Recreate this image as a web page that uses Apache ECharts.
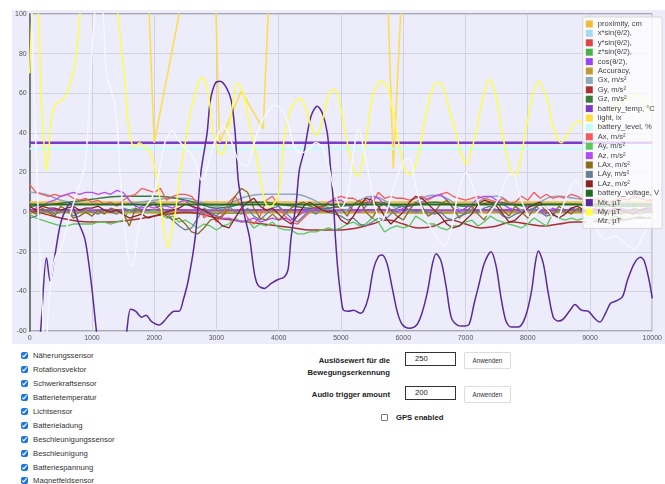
<!DOCTYPE html>
<html>
<head>
<meta charset="utf-8">
<script src="https://cdn.jsdelivr.net/npm/echarts@6/dist/echarts.min.js"></script>
<style>
  body { margin: 0; width: 665px; height: 484px; position: relative; background: #fff; overflow: hidden;
         font-family: "Liberation Sans", Arial, sans-serif; color: #333; }
  #chart { position: absolute; left: 12px; top: 10px; width: 653px; height: 334px; background: #ececfa; }
  .sensors { position: absolute; left: 20px; top: 349px; }
  .sensors label { display: flex; align-items: center; height: 13.9px; font-size: 7.7px; color: #333; }
  .sensors input { width: 7px; height: 7px; margin: 0 5px 0 1px; accent-color: #1a73e8; }
  .lbl { position: absolute; font-size: 7.7px; font-weight: bold; color: #222; text-align: right; line-height: 12px; }
  .num { position: absolute; left: 405px; width: 51px; height: 14px; box-sizing: border-box; border: 1px solid #333;
         border-left-width: 1.5px; border-top-width: 1.5px; font-size: 7.7px; padding-left: 9px; line-height: 11px; color: #222; }
  .btn { position: absolute; left: 464px; width: 47px; height: 17px; box-sizing: border-box; border: 1px solid #ddd;
         background: #fff; font-size: 6.3px; color: #333; text-align: center; line-height: 15px; border-radius: 1px; }
  .gps { position: absolute; left: 381px; top: 413px; display: flex; align-items: center; font-size: 7.7px; font-weight: bold; color: #222; }
  .gps span.box { width: 7px; height: 7px; border: 1px solid #777; border-radius: 1px; box-sizing: border-box; margin-right: 8px; background: #fff; }
</style>
</head>
<body>
<div id="chart"></div>

<div class="sensors">
  <label><input type="checkbox" checked>Näherungssensor</label>
  <label><input type="checkbox" checked>Rotationsvektor</label>
  <label><input type="checkbox" checked>Schwerkraftsensor</label>
  <label><input type="checkbox" checked>Batterietemperatur</label>
  <label><input type="checkbox" checked>Lichtsensor</label>
  <label><input type="checkbox" checked>Batterieladung</label>
  <label><input type="checkbox" checked>Beschleunigungssensor</label>
  <label><input type="checkbox" checked>Beschleunigung</label>
  <label><input type="checkbox" checked>Batteriespannung</label>
  <label><input type="checkbox" checked>Magnetfeldsensor</label>
</div>

<div class="lbl" style="left:290px; top:355px; width:100px;">Auslösewert für die<br>Bewegungserkennung</div>
<div class="num" style="top:352px;">250</div>
<div class="btn" style="top:352px;">Anwenden</div>

<div class="lbl" style="left:290px; top:389px; width:100px;">Audio trigger amount</div>
<div class="num" style="top:386px;">200</div>
<div class="btn" style="top:386px;">Anwenden</div>

<div class="gps"><span class="box"></span>GPS enabled</div>

<script>
// sample positions
const xs100 = [0,100,200,300,400,500,600,700,800,900,1000,1100,1200,1300,1400,1500,1600,1700,1800,1900,
  2000,2100,2200,2300,2400,2500,2600,2700,2800,2900,3000,3100,3200,3300,3400,3500,3600,3700,3800,3900,
  4000,4100,4200,4300,4400,4500,4600,4700,4800,4900,5000,5100,5200,5300,5400,5500,5600,5700,5800,5900,
  6000,6100,6200,6300,6400,6500,6600,6700,6800,6900,7000,7100,7200,7300,7400,7500,7600,7700,7800,7900,
  8000,8100,8200,8300,8400,8500,8600,8700,8800,8900,9000,9100,9200,9300,9400,9500,9600,9700,9800,9900,10000];
const xs250 = [0,250,500,750,1000,1250,1500,1750,2000,2250,2500,2750,3000,3250,3500,3750,4000,4250,4500,4750,
  5000,5250,5500,5750,6000,6250,6500,6750,7000,7250,7500,7750,8000,8250,8500,8750,9000,9250,9500,9750,10000];
const xs500 = [0,500,1000,1500,2000,2500,3000,3500,4000,4500,5000,5500,6000,6500,7000,7500,8000,8500,9000,9500,10000];
const xsEnds = [0, 10000];

// constant readings
const proximity = [5, 5];
const accuracy = [0, 0];
const batteryTemp = [35, 35];
const batteryLevel = [32, 32];
const batteryVoltage = [3.9, 3.9];

// rotation vector
const xSin = [0.2,0.1,-0.1,0.3,0.2,0,-0.2,0.1,0.3,0.2,0.1,-0.1,0.2,0.3,0.1,0,0.2,0.1,-0.1,0.2,0.1];
const ySin = [-0.1,0,0.2,0.1,-0.2,-0.3,0,0.2,0.1,-0.1,0,0.1,-0.2,0,0.2,0.1,-0.1,0,0.1,0,-0.1];
const zSin = [0.3,0.4,0.5,0.2,-0.1,-0.4,-0.6,-0.3,0.1,0.4,0.5,0.3,-0.2,-0.5,-0.3,0.2,0.5,0.3,-0.1,-0.3,0];
const cosHalf = [0.9,0.9,0.85,0.95,0.95,0.9,0.8,0.9,0.95,0.9,0.85,0.95,0.95,0.85,0.9,0.95,0.85,0.9,0.95,0.95,0.95];

// gravity
const gx = [10,9,6,4.5,4,4,4,5,6,7,7,5,3,5,8,9,9,9,7,3,0,5,8,5,0,6,8.5,6,0,6,8,4,0,6,8,7,6,5,5,4,4];
const gy = [1,-1,-3,-4.5,-5,-5,-4.5,-3.5,-2,-1,0,-1,-3,-4,-5,-6,-7,-8,-9,-9,-9,-8,-6,-4,-6,-8,-7,-4,-6,-8,-7,-5,-6,-7,-6,-5,-5,-4,-4,-3,-3];
const gz = [3,3.5,4.5,5.5,6.5,7.5,8,8,8,7.5,6,4,2,3,5,5,4,3,2,2,3,4,5,4,3,4,5,4,3,4,5,4,3,4,4,4,3,3,3,3,3];

// acceleration
const ax = [14,10,9,8,9,8,9,7,6,7, 5,6,4,5,3,6,8,9,12,11, 10,12,6,8,9,9,8,4,-3,0, -5,-1,5,8,3,-3,-6,-2,6,8,
  3,-2,-5,-6,-3,0,3,2,5,7, 8,7,7,5,6,4,10,7,8,7, 7,6,7,8,6,8,9,10,8,7, 6,7,8,7,6,5,7,4,5,8,
  6,10,7,9,7,8,7,9,8,6, 7,6,7,5,6,7,6,8,7,6, 6];
const ay = [-1,-3,-4,-5,-6,-7,-7,-6,-6,-6, -6,-5,-5,-6,-5,-4,1,2,0,0, 1,-1,-3,-2,-5,-4,-6,-8,-6,-7,
  -9,-7,-6,-3,-5,-4,-8,-6,-7,-5, -8,-9,-9,-11,-11,-10,-10,-9,-8,-9, -8,-6,-5,-7,-6,-3,-5,-10,-8,-7,
  -8,-7,-2,-4,-6,-6,-8,-9,-7,-7, -5,-4,-7,-5,-2,-4,-5,-6,-7,-8, -6,-3,-5,-7,-1,-3,-4,-3,-4,-3,
  -3,-4,-3,-4,-2,-3,-4,-3,-2,-3, -2];
const az = [0,2,3,5,6,8,9,10,9,10, 10,9,10,9,11,10,6,3,2,3, 2,3,3,2,5,6,3,1,0,-1, -2,-3,-3,-4,-5,-4,-3,-5,-4,-3,
  -4,-3,-4,-2,0,1,2,3,5,6, 6,4,1,0,3,8,7,4,1,0, 2,3,4,5,7,8,9,6,2,0, 2,4,7,8,8,6,4,2,1,0,
  3,4,1,-1,2,1,0,2,1,0, 1,2,1,0,1,2,1,0,1,2, 1];

// linear acceleration
const lax = [1,-1,2,0,-2,3,1,-3,-2,0, -2,1,-1,2,1,0,-7,2,0,3, 4,1,-2,-4,-3,-6,-10,-11,-8,-4,
  -3,-2,2,8,12,10,2,-3,-4,-1, -4,-1,2,4,5,3,2,3,4,3, 2,-2,4,6,0,-3,2,5,1,-2, -4,1,5,3,-2,0,4,6,2,-3,
  0,3,-1,-4,2,5,1,-2,3,0, -3,2,4,0,-2,3,1,-1,2,0, 1,-1,2,0,1,-1,0,2,1,0, 1];
const lay = [-3,-2,0,1,-1,0,1,-2,0,1, 0,-1,1,0,-1,2,1,0,3,4, 5,3,0,-4,-7,-9,-8,-3,2,0,
  -2,1,3,0,-1,2,-2,-4,-1,2, 3,0,-3,-5,-2,1,-1,2,0,-1, -2,-4,-3,-6,-7,-5,-3,-4,-1,2,
  3,1,0,1,0,-1,0,-3,-4,-2, -1,1,0,2,3,1,-2,-3,-1,0, 1,2,0,-2,-1,1,0,2,1,0, -1,0,1,0,-1,0,1,0,-1,0, 0];
const laz = [3,1,3,2,2,1,2,3,1,2, 2,3,1,0,1,-1,-3,-2,-1,-3, -2,-1,0,1,2,4,3,2,1,-1,
  -4,-7,-8,-3,2,5,7,3,1,2, -1,-4,-6,-2,3,5,3,1,0,1, -4,-6,-2,3,7,6,3,-2,-6,-3,
  0,5,8,7,4,1,-2,-6,-8,-7, -4,-1,4,6,5,3,-1,-5,-4,-1, 2,4,5,2,-1,-3,-1,2,3,1, 0,1,-1,0,2,1,0,-1,1,2, 2];

// light sensor, [t, lx]
const lightPts = [[0,180],[600,160],[1200,200],[1850,157],[2000,35],[2340,90],[2700,150],[2940,160],[3050,35],
  [3400,61],[3750,42],[3900,150],[4600,200],[5300,180],[5700,160],[5840,22],[6050,160],[7000,200],[8000,190],
  [9000,210],[10000,200]];

// magnetic field, [t, µT]
const mxPts = [[0,-95],[100,-80],[175,-60],[270,-23],[330,-35],[410,-21],[480,-8],[540,-1.5],[650,4.5],[780,-5],
  [890,-14],[990,-36],[1065,-58],[1150,-80],[1300,-95],[1450,-85],[1560,-60],[1620,-49],[1700,-50],[1800,-53],
  [1870,-52],[1950,-55],[2080,-57],[2160,-55],[2240,-52],[2320,-50],[2400,-50],[2470,-44],[2550,-34],[2660,-12.5],
  [2750,20],[2850,40],[2900,56],[2980,65],[3060,66],[3165,62.5],[3240,56],[3300,40],[3350,16],[3430,1],
  [3530,-12.5],[3610,-31],[3670,-37],[3770,-38.5],[3880,-36],[3990,-34],[4090,-32.7],[4150,-29],[4200,-12.5],
  [4280,4.5],[4330,21],[4410,31],[4515,48],[4620,53.5],[4700,50],[4780,40],[4830,23],[4880,4.5],[4910,-12.5],
  [4950,-29],[5000,-43],[5040,-49.5],[5120,-50],[5200,-49.5],[5310,-51],[5360,-50],[5440,-43],[5520,-29],
  [5600,-22.5],[5660,-21.7],[5740,-26],[5820,-37.7],[5910,-51],[5990,-57],[6100,-58.6],[6215,-57],[6300,-51],
  [6390,-40],[6470,-26],[6530,-21],[6610,-25],[6690,-37.7],[6770,-53],[6870,-57],[6980,-57.5],[7060,-56.5],
  [7140,-46],[7220,-36],[7300,-26],[7410,-20],[7490,-27],[7570,-43],[7650,-55],[7730,-58],[7850,-58],[7960,-53],
  [8060,-40],[8120,-26],[8170,-19.6],[8250,-26],[8330,-41],[8410,-53],[8490,-55],[8570,-54],[8680,-49.5],
  [8760,-46.6],[8860,-49.5],[8970,-50],[9080,-53.8],[9160,-55.5],[9250,-51],[9330,-46],[9410,-45],[9520,-42.8],
  [9600,-34.5],[9710,-26],[9810,-22.8],[9870,-24.5],[9950,-34.5],[10000,-43.5]];
const myPts = [[0,70],[40,100],[90,112],[140,100],[190,55],[240,30],[275,21],[300,28],[340,45],[380,52],[430,55],
  [540,57],[600,60],[650,65],[730,75],[810,100],[900,125],[1100,140],[1300,125],[1415,100],[1480,80],[1520,70],
  [1560,52],[1600,40],[1650,34],[1700,33],[1760,35],[1810,34],[1880,32],[1945,30],[2025,20],[2100,5],[2160,-10],
  [2220,-18],[2280,-10],[2340,0],[2420,20],[2500,35],[2580,50],[2660,60],[2720,66],[2770,68],[2830,65],[2890,55],
  [2950,40],[3020,32],[3080,29],[3130,31],[3200,42],[3240,50],[3300,62],[3350,65],[3430,60],[3500,50],[3560,40],
  [3610,33],[3690,20],[3770,6],[3830,3],[3880,3],[3940,5],[3990,8],[4040,20],[4090,38],[4170,50],[4250,55],
  [4310,57],[4360,57],[4410,54],[4460,50],[4510,44],[4560,40],[4620,39],[4680,44],[4730,50],[4780,57],[4830,61],
  [4880,62],[4940,60],[5000,52],[5070,40],[5150,28],[5220,20],[5280,18],[5340,25],[5420,40],[5470,52],[5520,60],
  [5600,65],[5660,66],[5720,64],[5760,62],[5830,52],[5900,40],[5970,28],[6030,21],[6100,19],[6180,22],[6265,32],
  [6320,42],[6370,50],[6450,60],[6530,65],[6600,65],[6660,61],[6750,50],[6850,40],[6920,30],[6980,26],[7020,24],
  [7100,32],[7170,40],[7240,52],[7300,60],[7380,67],[7430,65],[7480,60],[7540,50],[7590,40],[7670,28],[7745,20],
  [7800,18],[7880,26],[7960,40],[8030,52],[8090,60],[8170,66],[8250,62],[8330,55],[8390,45],[8440,40],[8500,36],
  [8540,35],[8600,37],[8650,40],[8760,45],[8840,46],[8920,42],[9000,42],[9100,42],[9200,44],[9300,48],[9400,52],
  [9500,55],[9600,57],[9700,59],[9800,58],[9900,54],[10000,50]];
const mzPts = [[0,160],[30,100],[110,25],[160,-20],[220,-60],[250,-75],[290,-55],[330,-38],[380,-27],[420,-22],
  [480,-20],[560,-12],[650,-1],[760,10],[860,20],[910,30],[980,70],[1045,100],[1110,112],[1180,100],[1230,70],
  [1290,63],[1365,55],[1415,40],[1450,20],[1500,0],[1575,-21],[1625,-27],[1680,-24],[1730,-12],[1780,-4],[1850,2],
  [1920,5],[2000,10],[2080,20],[2180,36],[2290,41],[2370,37],[2480,33],[2580,30],[2680,24],[2760,16],[2815,18],
  [2900,28],[2980,36],[3110,43],[3190,40],[3300,30],[3375,25],[3480,23],[3590,33],[3690,43],[3830,51],[3930,54],
  [4040,52],[4150,45],[4250,33],[4360,30],[4460,31],[4595,35],[4700,33],[4800,23],[4900,10],[5000,2],[5100,8],
  [5200,30],[5280,42],[5390,28],[5470,15],[5550,2],[5650,-5],[5750,2],[5840,12],[5950,22],[6050,27],[6120,26],
  [6215,11],[6375,-4],[6530,-12],[6660,-17],[6770,-9],[6870,8],[6950,17],[7010,20],[7100,15],[7200,5],[7300,-2],
  [7400,0],[7500,5],[7600,12],[7700,19],[7775,19],[7850,10],[7950,2],[8050,-3],[8150,0],[8250,3],[8350,0],
  [8450,-5],[8550,2],[8650,10],[8760,16],[8850,12],[8950,2],[9100,-8],[9250,-14],[9400,-12],[9550,-15],[9710,-19],
  [9850,-12],[9950,-5],[10000,-2]];

const xTicks = [0, 1000, 2000, 3000, 4000, 5000, 6000, 7000, 8000, 9000, 10000];
const yTicks = [-60, -40, -20, 0, 20, 40, 60, 80, 100];

const zip = (xs, ys) => xs.map((x, i) => [x, ys[i]]);

// name, points, colour, width, smoothing
const lines = [
  ['proximity, cm', zip(xsEnds, proximity), '#f0bc3c', 2, 0],
  ['x*sin(θ/2),', zip(xs500, xSin), '#a6d8f5', 1.5, 0.3],
  ['y*sin(θ/2),', zip(xs500, ySin), '#d94848', 1.5, 0.3],
  ['z*sin(θ/2),', zip(xs500, zSin), '#4caf50', 1.5, 0.3],
  ['cos(θ/2),', zip(xs500, cosHalf), '#9b45f0', 2.5, 0.3],
  ['Accuracy,', zip(xsEnds, accuracy), '#bf9b30', 2.5, 0],
  ['Gx, m/s²', zip(xs250, gx), '#8fa8bf', 1.5, 0.5],
  ['Gy, m/s²', zip(xs250, gy), '#a83232', 1.5, 0.5],
  ['Gz, m/s²', zip(xs250, gz), '#3a7a3a', 1.5, 0.5],
  ['battery_temp, °C', zip(xsEnds, batteryTemp), '#7a3cc8', 2.5, 0],
  ['light, lx', lightPts, '#ffdd44', 1.5, 0],
  ['battery_level, %', zip(xsEnds, batteryLevel), '#c4fbfb', 1.8, 0],
  ['Ax, m/s²', zip(xs100, ax), '#f55a5a', 1.3, 0],
  ['Ay, m/s²', zip(xs100, ay), '#5cc85c', 1.3, 0],
  ['Az, m/s²', zip(xs100, az), '#b24cf5', 1.3, 0],
  ['LAx, m/s²', zip(xs100, lax), '#8b6d1c', 1.3, 0],
  ['LAy, m/s²', zip(xs100, lay), '#677f96', 1.3, 0],
  ['LAz, m/s²', zip(xs100, laz), '#8a2424', 1.3, 0],
  ['battery_voltage, V', zip(xsEnds, batteryVoltage), '#236b23', 2, 0],
  ['Mx, µT', mxPts, '#5a2a9c', 1.5, 0.3],
  ['My, µT', myPts, '#ffff45', 1.5, 0.3],
  ['Mz, µT', mzPts, '#f7f7ff', 1.5, 0.3]
];

const chart = echarts.init(document.getElementById('chart'));

chart.setOption({
  animation: false,
  textStyle: { fontFamily: 'Liberation Sans, Arial, sans-serif' },
  grid: {
    left: 14, right: 10, top: 4, bottom: 13,
    show: true, borderColor: '#666', borderWidth: 1, backgroundColor: '#ececfa'
  },
  legend: {
    orient: 'vertical',
    right: 3,
    top: 7,
    padding: [3, 3, 3, 3],
    itemWidth: 7,
    itemHeight: 7,
    itemGap: 1.4,
    icon: 'rect',
    backgroundColor: 'rgba(255,255,255,0.78)',
    borderColor: '#d8d8d8',
    borderWidth: 1,
    textStyle: { fontSize: 7.6, color: '#444' },
    data: lines.map(l => l[0])
  },
  xAxis: {
    type: 'value',
    min: xTicks[0],
    max: xTicks[xTicks.length - 1],
    interval: 1000,
    axisLine: { show: true, lineStyle: { color: '#777', width: 2 } },
    axisTick: { show: false },
    axisLabel: { fontSize: 7, color: '#555', margin: 4, formatter: v => String(v) },
    splitLine: { show: true, lineStyle: { color: '#d2d2e2' } }
  },
  yAxis: {
    type: 'value',
    min: yTicks[0],
    max: yTicks[yTicks.length - 1],
    interval: 20,
    axisLine: { show: true, lineStyle: { color: '#777', width: 2 } },
    axisTick: { show: false },
    axisLabel: { fontSize: 7, color: '#555', margin: 3, formatter: v => String(v) },
    splitLine: { show: true, lineStyle: { color: '#d2d2e2' } }
  },
  series: lines.map(([name, data, color, width, smooth]) => ({
    name,
    type: 'line',
    data,
    smooth,
    showSymbol: false,
    symbol: 'none',
    color,
    lineStyle: { color, width },
    emphasis: { disabled: true }
  }))
});
</script>
</body>
</html>
